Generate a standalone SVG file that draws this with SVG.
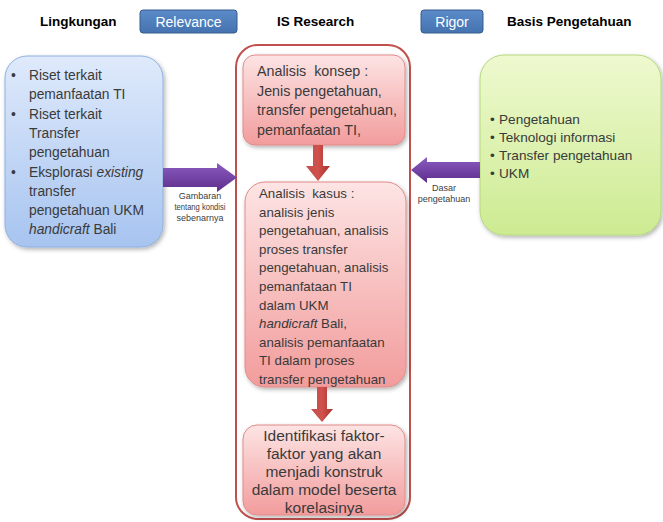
<svg xmlns="http://www.w3.org/2000/svg" width="663" height="522" viewBox="0 0 663 522">
  <defs>
    <linearGradient id="gBlue" x1="0" y1="0" x2="0" y2="1">
      <stop offset="0" stop-color="#dfeafb"/>
      <stop offset="1" stop-color="#a7c4f0"/>
    </linearGradient>
    <linearGradient id="gGreen" x1="0" y1="0" x2="0" y2="1">
      <stop offset="0" stop-color="#eef9cf"/>
      <stop offset="1" stop-color="#cdeb92"/>
    </linearGradient>
    <linearGradient id="gPink" x1="0" y1="0" x2="0" y2="1">
      <stop offset="0" stop-color="#fde4e4"/>
      <stop offset="1" stop-color="#f29c9c"/>
    </linearGradient>
    <linearGradient id="gPurple" x1="0" y1="0" x2="0" y2="1">
      <stop offset="0" stop-color="#8a5cc0"/>
      <stop offset="1" stop-color="#5e2d8c"/>
    </linearGradient>
    <linearGradient id="gRed" x1="0" y1="0" x2="1" y2="0">
      <stop offset="0" stop-color="#c0504d"/>
      <stop offset="0.5" stop-color="#d0504c"/>
      <stop offset="1" stop-color="#a8302d"/>
    </linearGradient>
    <linearGradient id="gHead" x1="0" y1="0" x2="0" y2="1">
      <stop offset="0" stop-color="#5b8bc9"/>
      <stop offset="1" stop-color="#4573b0"/>
    </linearGradient>
    <filter id="shadow" x="-10%" y="-10%" width="130%" height="130%">
      <feDropShadow dx="1.5" dy="2" stdDeviation="2" flood-color="#000" flood-opacity="0.3"/>
    </filter>
  </defs>
  <style>
    .hdr { font-family: "Liberation Sans", Arial, sans-serif; font-weight: bold; font-size: 13.5px; fill: #000; }
    .tag { fill: url(#gHead); stroke: #385d8a; stroke-width: 1; }
    .tagt { font-family: "Liberation Sans", Arial, sans-serif; font-size: 14px; fill: #fff; text-anchor: middle; }
    .body { font-family: "Liberation Sans", Arial, sans-serif; fill: #3a3a3a; }
    .small { font-family: "Liberation Sans", Arial, sans-serif; font-size: 9px; fill: #404040; text-anchor: middle; }
    .pink { fill: url(#gPink); stroke: #e38a8a; stroke-width: 1; filter: url(#shadow); }
    .redarrow { fill: url(#gRed); }
    .purplearrow { fill: url(#gPurple); }
  </style>

  <rect width="663" height="522" fill="#ffffff"/>

  <g id="header">
    <text class="hdr" x="40" y="26">Lingkungan</text>
    <g id="relevance">
      <rect class="tag" x="140" y="10" width="97" height="23" rx="3"/>
      <text class="tagt" x="188.5" y="26.5">Relevance</text>
    </g>
    <text class="hdr" x="277" y="26">IS Research</text>
    <g id="rigor">
      <rect class="tag" x="421" y="10" width="62" height="23" rx="3"/>
      <text class="tagt" x="452" y="26.5">Rigor</text>
    </g>
    <text class="hdr" x="507" y="26">Basis Pengetahuan</text>
  </g>

  <g id="is-research">
    <rect x="236" y="45" width="174" height="474" rx="22" fill="#ffffff" stroke="#c0504d" stroke-width="2"/>
  </g>

  <g id="lingkungan-box">
    <rect x="5" y="56" width="158" height="191" rx="22" fill="url(#gBlue)" stroke="#8fb0e0" stroke-width="1" filter="url(#shadow)"/>
    <g class="body" font-size="13.8">
      <text x="11" y="80">•</text><text x="29" y="80">Riset terkait</text>
      <text x="29" y="99.3">pemanfaatan TI</text>
      <text x="11" y="118.6">•</text><text x="29" y="118.6">Riset terkait</text>
      <text x="29" y="137.9">Transfer</text>
      <text x="29" y="157.2">pengetahuan</text>
      <text x="11" y="176.5">•</text><text x="29" y="176.5">Eksplorasi <tspan font-style="italic">existing</tspan></text>
      <text x="29" y="195.8">transfer</text>
      <text x="29" y="215.1">pengetahuan UKM</text>
      <text x="29" y="234.4"><tspan font-style="italic">handicraft</tspan> Bali</text>
    </g>
  </g>

  <g id="basis-box">
    <rect x="480" y="55" width="181" height="180" rx="24" fill="url(#gGreen)" stroke="#b5d87e" stroke-width="1" filter="url(#shadow)"/>
    <g class="body" font-size="13.6">
      <text x="490" y="124">•</text><text x="499" y="124">Pengetahuan</text>
      <text x="490" y="142">•</text><text x="499" y="142">Teknologi informasi</text>
      <text x="490" y="160">•</text><text x="499" y="160">Transfer pengetahuan</text>
      <text x="490" y="178">•</text><text x="499" y="178">UKM</text>
    </g>
  </g>

  <g id="analisis-konsep">
    <rect class="pink" x="243" y="55" width="162" height="90" rx="12"/>
    <g class="body" font-size="14.3">
      <text x="257" y="76" xml:space="preserve">Analisis  konsep :</text>
      <text x="257" y="95.5">Jenis pengetahuan,</text>
      <text x="257" y="115">transfer pengetahuan,</text>
      <text x="257" y="134.5">pemanfaatan TI,</text>
    </g>
  </g>

  <g id="analisis-kasus">
    <rect class="pink" x="245" y="182" width="161" height="205" rx="20"/>
    <g class="body" font-size="13.3">
      <text x="259" y="198" xml:space="preserve">Analisis  kasus :</text>
      <text x="259" y="216.6">analisis jenis</text>
      <text x="259" y="235.2">pengetahuan, analisis</text>
      <text x="259" y="253.8">proses transfer</text>
      <text x="259" y="272.4">pengetahuan, analisis</text>
      <text x="259" y="291">pemanfataan TI</text>
      <text x="259" y="309.6">dalam UKM</text>
      <text x="259" y="328.2"><tspan font-style="italic">handicraft</tspan> Bali,</text>
      <text x="259" y="346.8">analisis pemanfaatan</text>
      <text x="259" y="365.4">TI dalam proses</text>
      <text x="259" y="384">transfer pengetahuan</text>
    </g>
  </g>

  <g id="identifikasi">
    <rect class="pink" x="243" y="425" width="162" height="90" rx="14"/>
    <g class="body" font-size="15.5" text-anchor="middle">
      <text x="324" y="440.5">Identifikasi faktor-</text>
      <text x="324" y="458.7">faktor yang akan</text>
      <text x="324" y="476.9">menjadi konstruk</text>
      <text x="324" y="495.1">dalam model beserta</text>
      <text x="324" y="512.5">korelasinya</text>
    </g>
  </g>

  <g id="connectors">
    <polygon class="purplearrow" points="163,168 217,168 217,163 237,177.5 217,192 217,187 163,187"/>
    <polygon class="purplearrow" points="480,162 427,162 427,157 411,170 427,183 427,178 480,178"/>
    <polygon class="redarrow" points="313,145 323,145 323,166 330,166 318,181 306,166 313,166"/>
    <polygon class="redarrow" points="317,387 327,387 327,409 333,409 322,422 311,409 317,409"/>
    <text class="small" x="200" y="198.5">Gambaran</text>
    <text class="small" x="200" y="209.5" textLength="51" lengthAdjust="spacingAndGlyphs">tentang kondisi</text>
    <text class="small" x="200" y="220.5">sebenarnya</text>
    <text class="small" x="444" y="190.5">Dasar</text>
    <text class="small" x="444" y="201.5">pengetahuan</text>
  </g>
</svg>
